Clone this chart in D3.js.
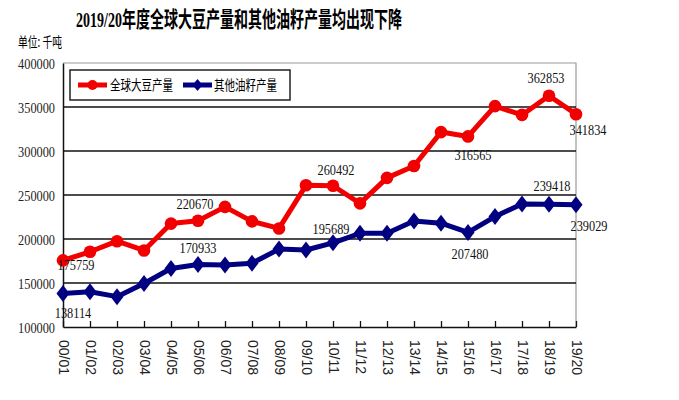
<!DOCTYPE html>
<html><head><meta charset="utf-8">
<script src="https://cdn.jsdelivr.net/npm/d3@7/dist/d3.min.js"></script>
<style>body{margin:0;background:#fff}svg{display:block}</style>
</head><body><svg id="c" width="679" height="400"></svg>
<script>
const categories = ["00/01","01/02","02/03","03/04","04/05","05/06","06/07","07/08","08/09","09/10",
  "10/11","11/12","12/13","13/14","14/15","15/16","16/17","17/18","18/19","19/20"];
const soybean = [175759,185500,197500,187000,217500,220670,236500,220000,212000,261000,
  260492,240500,269500,283000,321500,316565,351000,341000,362853,341834];
const otherOilseeds = [138114,140000,134500,149500,166500,170933,170500,172500,188500,187500,
  195689,206500,206500,220500,218000,207480,225500,239800,239418,239029];
const yTicks = [100000,150000,200000,250000,300000,350000,400000];
const seriesNames = ["全球大豆产量","其他油籽产量"];
const titleText = "2019/20年度全球大豆产量和其他油籽产量均出现下降";
const unitText = "单位: 千吨";
const labelledPoints = [0,5,10,15,18,19];

const RED = "#f20000", BLUE = "#000080";
const svg = d3.select("#c");
const x = d3.scalePoint().domain(categories).range([63,576]);
const y = d3.scaleLinear().domain([100000,400000]).range([327,63]);

// title & unit
svg.append("text").attr("x",239).attr("y",27).attr("text-anchor","middle")
  .attr("font-family","'Liberation Serif','Noto Sans CJK SC'").attr("font-weight","bold")
  .attr("font-size",22).attr("textLength",326).attr("lengthAdjust","spacingAndGlyphs")
  .text(titleText);
svg.append("text").attr("x",18).attr("y",47)
  .attr("font-family","'Noto Sans CJK SC'").attr("font-size",14)
  .attr("textLength",44).attr("lengthAdjust","spacingAndGlyphs").text(unitText);

// plot border (gray top/right)
svg.append("path").attr("d",`M${x.range()[0]},${y(400000)}H${x.range()[1]}V${y(100000)}`)
  .attr("fill","none").attr("stroke","#9a9a9a").attr("stroke-width",1.2);
// gridlines
svg.append("g").selectAll("line").data(yTicks.filter(t=>t>100000 && t<400000)).join("line")
  .attr("x1",x.range()[0]).attr("x2",x.range()[1]).attr("y1",d=>y(d)).attr("y2",d=>y(d))
  .attr("stroke","#111").attr("stroke-width",1.3);

// y axis
const gy = svg.append("g").attr("transform",`translate(${x.range()[0]},0)`)
  .call(d3.axisLeft(y).tickValues(yTicks).tickSize(0).tickFormat(d3.format("d")));
gy.select(".domain").attr("stroke","#111").attr("stroke-width",1.5);
gy.selectAll("text").attr("x",null).attr("dy",null)
  .attr("transform","translate(-8,0) scale(0.88,1)").attr("dy","0.36em")
  .attr("font-family","'Liberation Serif'").attr("font-size",14).attr("fill","#222");

// x axis
const gx = svg.append("g").attr("transform",`translate(0,${y(100000)})`)
  .call(d3.axisBottom(x).tickSize(-6).tickSizeOuter(0));
gx.select(".domain").attr("stroke","#111").attr("stroke-width",1.5);
gx.selectAll(".tick line").attr("stroke","#111").attr("stroke-width",1.3);
gx.selectAll("text").attr("y",0).attr("x",0).attr("dy","0.35em")
  .attr("transform","translate(0,13) rotate(90)").attr("text-anchor","start")
  .attr("font-family","'Liberation Sans'").attr("font-size",14).attr("fill","#222");

// series
const line = d3.line().x((d,i)=>x(categories[i])).y(d=>y(d));
svg.append("path").datum(soybean).attr("d",line).attr("fill","none")
  .attr("stroke",RED).attr("stroke-width",5).attr("stroke-linejoin","round");
svg.append("path").datum(otherOilseeds).attr("d",line).attr("fill","none")
  .attr("stroke",BLUE).attr("stroke-width",5).attr("stroke-linejoin","round");
svg.append("g").selectAll("circle").data(soybean).join("circle")
  .attr("cx",(d,i)=>x(categories[i])).attr("cy",d=>y(d)).attr("r",6.3).attr("fill",RED);
const diamond = "M0,-8.5L6.5,0L0,8.5L-6.5,0Z";
svg.append("g").selectAll("path").data(otherOilseeds).join("path")
  .attr("d",diamond).attr("fill",BLUE)
  .attr("transform",(d,i)=>`translate(${x(categories[i])},${y(d)})`);

// data labels
const soyOffsets = {0:[13,5],5:[-3,-17],10:[3,-16],15:[5,19],18:[-3,-18],19:[12,16]};
const oilOffsets = {0:[10,19],5:[0,-17],10:[-2,-14],15:[2,22],18:[3,-18],19:[13,21]};
function labels(data, offs){
  svg.append("g").selectAll("text").data(labelledPoints).join("text")
    .attr("transform",i=>`translate(${x(categories[i])+offs[i][0]},${y(data[i])+offs[i][1]}) scale(0.88,1)`)
    .attr("text-anchor","middle").attr("dy","0.36em")
    .attr("font-family","'Liberation Serif'").attr("font-size",14).attr("fill","#111")
    .text(i=>data[i]);
}
labels(soybean, soyOffsets);
labels(otherOilseeds, oilOffsets);

// legend
const lg = svg.append("g");
lg.append("rect").attr("x",70).attr("y",70).attr("width",220).attr("height",30)
  .attr("fill","#fff").attr("stroke","#222").attr("stroke-width",1.5);
const items = [{name:seriesNames[0],c:RED,x0:78,tx:110,shape:"c"},{name:seriesNames[1],c:BLUE,x0:183,tx:214,shape:"d"}];
items.forEach(it=>{
  lg.append("line").attr("x1",it.x0).attr("x2",it.x0+29).attr("y1",85).attr("y2",85)
    .attr("stroke",it.c).attr("stroke-width",5);
  if(it.shape==="c") lg.append("circle").attr("cx",it.x0+14.5).attr("cy",85).attr("r",5).attr("fill",it.c);
  else lg.append("path").attr("d","M0,-6L5,0L0,6L-5,0Z").attr("fill",it.c).attr("transform",`translate(${it.x0+14.5},85)`);
  lg.append("text").attr("x",it.tx).attr("y",90).attr("font-family","'Noto Sans CJK SC'")
    .attr("font-size",14).attr("textLength",63).attr("lengthAdjust","spacingAndGlyphs").text(it.name);
});
</script></body></html>
